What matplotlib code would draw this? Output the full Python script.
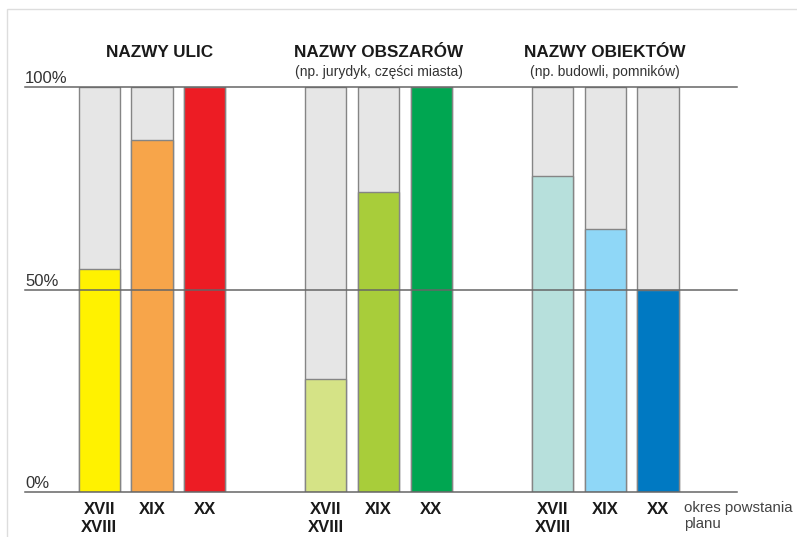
import numpy as np
import matplotlib.pyplot as plt
from matplotlib.patches import Rectangle

plt.rcParams['font.family'] = ['Liberation Sans', 'DejaVu Sans']

groups = ["NAZWY ULIC", "NAZWY OBSZARÓW", "NAZWY OBIEKTÓW"]
subtitles = ["", "(np. jurydyk, części miasta)", "(np. budowli, pomników)"]
periods = ["XVII\nXVIII", "XIX", "XX"]
values = [
    [55, 87, 100],   # ulice
    [28, 74, 100],   # obszary
    [78, 65, 50],    # obiekty
]
colors = [
    ["#fff200", "#f7a54a", "#ed1c24"],
    ["#d5e386", "#a8cd3a", "#00a651"],
    ["#b7e0dc", "#8fd7f7", "#0079c2"],
]
yticks = [0, 50, 100]

fig = plt.figure(figsize=(7.97, 5.37), dpi=100)
ax = fig.add_axes([25 / 797, 45 / 537, 712 / 797, 405 / 537])

group_gap = 4.3
width = 0.78
xs, labels = [], []
for g, (vals, cols) in enumerate(zip(values, colors)):
    for i, (v, c) in enumerate(zip(vals, cols)):
        x = g * group_gap + i
        xs.append(x)
        labels.append(periods[i])
        ax.bar(x, 100, width=width, color="#e6e6e6", edgecolor="#858585", linewidth=1, zorder=1)
        ax.bar(x, v, width=width, color=c, edgecolor="#858585", linewidth=1, zorder=2)
    cx = g * group_gap + 1
    if g == 0:
        cx += 0.15  # ulice title sits a bit right of the middle bar
    ax.text(cx, 108.4, groups[g], ha="center", va="center", fontsize=12.3, fontweight="bold", color="#1a1a1a")
    if subtitles[g]:
        ax.text(cx, 103.8, subtitles[g], ha="center", va="center", fontsize=10, color="#333333")

for t in yticks:
    ax.axhline(t, color="#666666", linewidth=1.1, zorder=3, clip_on=False)
    ax.text(-1.41, t + 0.2, f"{t}%", ha="left", va="bottom", fontsize=12, color="#333333")

ax.set_xlim(-1.41, 12.1)
ax.set_ylim(0, 100)
ax.set_xticks(xs)
ax.set_xticklabels(labels, fontsize=12, fontweight="bold", color="#1a1a1a", va="top", linespacing=1.25)
ax.tick_params(axis="x", length=0, pad=7)
ax.set_yticks([])
for s in ax.spines.values():
    s.set_visible(False)

ax.text(11.1, -2.1, "okres powstania\nplanu", ha="left", va="top", fontsize=10.8, color="#444444", linespacing=1.2)

fig.patches.append(Rectangle((7 / 797, -0.1), 1.2, (537 - 9) / 537 + 0.1, transform=fig.transFigure,
                             fill=False, edgecolor="#dddddd", linewidth=1))

fig.savefig("out.png", dpi=100)
